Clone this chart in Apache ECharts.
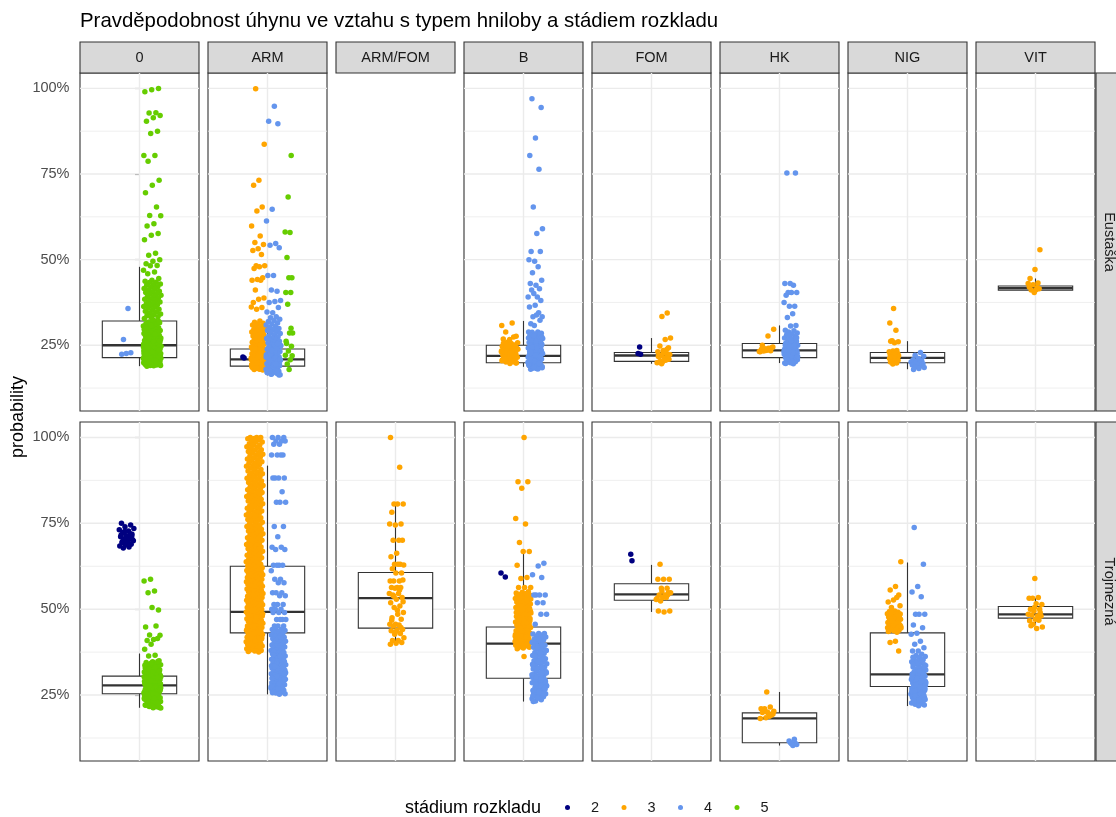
<!DOCTYPE html>
<html>
<head>
<meta charset="utf-8">
<title>Pravděpodobnost úhynu ve vztahu s typem hniloby a stádiem rozkladu</title>
<script src="https://cdn.jsdelivr.net/npm/echarts@6/dist/echarts.min.js"></script>
<style>
html, body { margin: 0; padding: 0; background: #fff; }
#chart { width: 1116px; height: 817px; }
</style>
</head>
<body>
<div id="chart"></div>
<script>
// ---------- labels ----------
const TITLE = 'Pravděpodobnost úhynu ve vztahu s typem hniloby a stádiem rozkladu';
const COLUMNS = ['0', 'ARM', 'ARM/FOM', 'B', 'FOM', 'HK', 'NIG', 'VIT'];
const ROWS = ['Eustaška', 'Trojmezná'];
const STAGES = ['2', '3', '4', '5'];
const Y_TITLE = 'probability';
const LEGEND_TITLE = 'stádium rozkladu';
const Y_MAJOR = [25, 50, 75, 100];
const Y_MINOR = [12.5, 37.5, 62.5, 87.5];

// ---------- box statistics, percent: [lower whisker, Q1, median, Q3, upper whisker] ----------
const BOX_EUSTASKA = [
  [18.9, 21.4, 25.0, 32.1, 47.9],
  [16.2, 18.9, 20.9, 23.9, 32.5],
  null,
  [18.7, 19.9, 21.9, 25.0, 32.1],
  [19.6, 20.3, 22.0, 22.9, 27.1],
  [19.8, 21.4, 23.5, 25.5, 30.8],
  [18.0, 19.9, 21.3, 22.9, 26.2],
  [40.4, 41.1, 41.7, 42.3, 44.5]
];
const BOX_TROJMEZNA = [
  [21.3, 25.4, 27.8, 30.5, 37.1],
  [25.2, 43.1, 49.2, 62.5, 91.8],
  [40.0, 44.5, 53.2, 60.7, 80.6],
  [23.1, 29.9, 40.0, 44.8, 66.5],
  [49.2, 52.6, 54.3, 57.4, 62.9],
  [10.3, 11.1, 18.2, 19.8, 25.9],
  [21.8, 27.5, 31.0, 43.1, 63.6],
  [45.5, 47.4, 48.5, 50.8, 53.2]
];

// ---------- individual probabilities, in tenths of a percent ----------
// Eustaška
const E_0_4 = [357, 267, 228, 226, 224];
const E_0_5 = [1000,996,990,929,928,921,914,904,875,868,804,804,787,732,717,695,654,629,628,605,598,576,571,558,519,513,500,495,488,483,482,469,464,459,445,440,
437,434,433,429,427,425,421,419,416,414,411,408,406,404,401,399,396,393,391,388,386,384,381,378,376,373,371,368,366,363,361,358,355,352,349,347,344,341,339,336,333,331,328,
321,318,316,314,313,311,309,306,305,303,301,299,298,296,295,293,291,289,288,286,284,283,281,279,278,276,275,273,271,270,268,267,265,264,262,261,259,258,257,255,254,253,252,251,319,307,294,287,274,266,260,256,252,308,297,282,272,263,325,300,
249,248,247,246,245,244,243,242,241,240,239,238,237,236,235,234,233,232,231,230,229,228,227,226,225,224,223,222,221,220,219,218,217,216,215,248,245,241,238,235,232,229,226,223,220,217,246,240,233,227,221,243,236,230,224,
214,213,212,211,210,209,208,207,206,205,204,203,202,201,200,199,198,197,196,195,194,193,192,191,190,189,213,211,208,206,203,201,198,196,193,191,212,207,202,197,192,210,204,199,194];
const E_ARM_2 = [216, 213];
const E_ARM_3 = [999,837,732,717,654,642,598,569,550,544,532,527,515,482,482,479,474,447,442,440,440,411,388,384,375,360,355,362,
321,317,314,312,309,305,303,301,298,296,293,291,289,286,284,282,279,277,275,272,270,268,266,263,261,259,257,255,253,251,
249,248,246,245,243,242,240,239,237,236,234,233,231,230,228,227,225,224,222,221,219,218,216,215,213,212,210,209,207,206,204,203,201,200,198,197,195,194,192,191,189,188,186,185,183,182,180,179,178,
247,244,238,235,229,226,220,217,211,208,202,199,193,190,184,181,241,232,223,214,205,196,187,250,239,228,217,206,195,184];
const E_ARM_4 = [948,904,897,647,613,547,542,535,454,454,408,411,381,378,375,360,345,347,333,
330,326,322,319,315,312,309,305,302,299,296,293,290,287,284,281,278,275,272,270,267,264,262,259,257,254,252,249,247,245,243,240,238,236,234,232,230,228,226,224,222,220,218,216,214,212,210,208,206,204,202,200,198,196,194,192,190,188,186,184,182,180,178,176,174,172,170,168,166,164,
251,244,237,229,221,213,205,197,189,181,173,165,248,233,219,203,187,171,241,225,209,193,177,255,235,215,195,175,163];
const E_ARM_5 = [804,683,581,579,506,447,447,404,404,370,286,286,255,247,233,221,208,195,219,179,262,300];
const E_B_3 = [308,315,289,276,267,268,274,
259,257,255,253,251,249,247,245,243,241,239,237,235,233,231,229,227,225,223,221,219,217,215,213,211,209,207,205,203,201,199,197,256,250,244,238,232,226,220,214,208,202,252,240,228,216,204,246,234,222,210,198];
const E_B_4 = [970,944,855,804,764,654,590,576,524,524,495,500,479,462,440,425,430,415,401,391,391,411,381,367,362,345,333,333,338,313,323,308,289,289,
288,285,282,279,276,273,270,268,265,263,260,258,256,254,252,250,248,246,244,242,240,238,236,234,232,230,228,226,224,222,220,218,216,214,212,210,208,206,204,202,200,198,196,194,192,190,188,186,184,182,180,
283,277,271,266,261,255,249,243,237,231,225,219,213,207,201,195,189,183,274,262,251,239,227,215,203,191,247,235,223,211,199,187,241,229,217,205,193,181,245,233,221,209,197,185];
const E_FOM_2 = [245, 226, 224];
const E_FOM_3 = [344,334,271,267,248,243,235,231,226,221,223,213,216,211,201,199,206,203,209,228,218,238,196];
const E_HK_3 = [297,277,250,243,235,231,237,233,245,236,238,234,240,232,241];
const E_HK_4 = [753,753,430,430,425,404,404,404,396,364,364,375,342,331,308,306,294,292,
289,286,283,280,277,274,271,268,265,262,259,256,254,252,250,248,246,244,242,240,238,236,234,232,230,228,226,224,222,220,218,216,214,212,210,208,206,204,202,200,198,196,281,272,263,255,247,239,231,223,215,207,199,251,243,235,227,219,211,203,245,237,229,221,213,205,197,249,233,217,201];
const E_NIG_3 = [357,315,294,263,260,257,262,235,233,231,229,228,226,225,223,222,220,219,217,216,214,213,211,210,208,206,204,201,198,195];
const E_NIG_4 = [229,221,218,211,208,205,203,201,199,197,196,194,192,190,187,185,182,179];
const E_VIT_3 = [529,471,445,432,427,430,412,411,415,404,420,418];

// Trojmezná
const T_0_2 = [750,745,740,731,728,723,718,714,711,706,704,699,696,694,689,687,684,681,678,702,708,716,720,726,735,692,697,712];
const T_0_5 = [587,582,553,548,498,505,448,451,425,424,412,409,415,398,383,366,364,
350,347,345,342,340,338,336,334,332,330,329,327,326,324,323,321,320,318,317,315,314,313,312,311,310,309,308,307,306,348,343,337,331,325,319,316,311,307,
304,303,302,301,300,299,298,297,296,295,294,293,292,291,290,289,288,287,286,285,284,283,282,281,280,279,305,302,299,296,293,290,287,284,281,303,297,291,285,279,300,294,288,282,298,289,301,292,283,286,
277,276,275,274,273,272,271,270,269,268,267,266,265,264,263,262,261,260,259,258,257,256,255,254,278,275,272,269,266,263,260,257,255,276,270,264,258,273,267,261,256,274,268,262,271,265,259,277,263,257,
253,251,249,247,245,243,241,239,237,235,233,231,229,227,225,223,221,219,217,215,213,252,248,244,240,236,232,228,224,220,216,250,242,234,226,218,246,238,230,222,214,254,237,229,221,212,241,233,225,217];
const T_ARM_3 = [1000,1000,1000,997,996,993,989,987,986,982,978,977,973,971,968,964,963,959,956,955,951,948,946,943,941,937,935,933,929,926,925,921,918,916,913,911,907,905,902,899,897,894,892,889,886,884,881,878,876,873,871,869,865,863,860,858,856,852,850,848,845,843,840,837,835,832,830,828,824,822,820,817,815,812,809,807,805,801,799,797,794,792,789,786,784,781,779,776,774,771,768,766,763,761,759,756,753,751,748,745,743,741,738,736,733,731,728,726,723,720,718,716,713,710,708,706,703,701,698,696,693,691,688,686,684,681,679,676,674,671,669,667,664,662,659,657,655,652,650,647,645,643,640,638,635,633,631,628,626,
624,622,621,619,618,616,614,613,611,610,608,606,605,603,602,600,599,597,595,594,592,591,589,587,586,584,583,581,580,578,576,575,573,572,570,568,567,565,564,562,561,559,557,556,554,553,551,549,548,546,545,543,542,540,538,537,535,534,532,530,529,527,526,524,523,521,519,518,516,515,513,511,510,508,507,505,504,502,500,499,497,496,494,492,491,489,488,486,485,483,481,480,478,477,475,473,472,470,469,467,466,464,462,461,459,458,456,454,453,451,450,448,447,445,443,442,440,439,437,435,434,432,431,429,428,426,424,423,421,420,418,416,415,413,412,410,409,407,405,404,402,401,399,397,396,394,393,391,390,388,386,385,383,382,380,378,377,375,
496,487,478,469,461,452,443,434,425,417,408,399,390];
const T_ARM_4 = [1000,1000,1000,990,990,990,980,980,949,949,949,949,882,882,882,882,842,811,811,811,741,741,711,680,680,674,674,628,628,628,628,612,587,587,577,577,548,548,548,539,539,514,514,514,500,500,500,490,490,490,470,470,470,470,451,451,451,441,441,441,
438,435,433,430,428,425,423,421,418,416,414,411,409,407,404,402,400,398,396,394,392,390,388,386,384,382,380,378,376,374,372,370,368,366,364,362,360,358,356,354,352,350,348,346,344,342,340,338,336,334,332,330,328,326,324,322,320,318,316,314,312,310,308,306,304,302,300,298,296,294,292,290,288,286,284,282,280,278,276,274,272,270,268,266,264,262,260,258,256,254,252,
377,363,349,335,321,307,293,279,265,371,343,315,287,259,355,327,299,271,339,311,283,367,331,303,275,362,333,296,268,257];
const T_ARMFOM_3 = [1000,913,806,806,806,782,748,745,748,701,701,701,663,653,631,631,629,631,618,605,605,582,582,582,585,563,563,563,561,546,546,541,534,529,519,509,505,490,485,475,471,456,456,454,451,441,439,437,429,427,417,409,409,403,401,398,556,538,522,497,468,447,433];
const T_B_2 = [605, 594];
const T_B_3 = [1000,871,871,852,764,748,694,668,668,628,592,589,563,563,563,
551,549,547,545,543,541,539,537,535,533,531,529,527,525,523,521,519,517,515,513,511,509,507,505,503,501,499,497,495,493,491,489,487,485,483,481,479,477,475,473,471,469,467,465,463,461,459,457,455,453,451,449,447,445,443,441,439,437,435,433,431,429,427,425,423,421,419,417,415,413,411,409,407,405,403,401,399,397,395,393,391,389,387,385,
546,538,530,522,514,506,498,490,482,474,466,458,450,442,434,426,418,410,402,394,542,526,510,494,478,462,446,430,414,398,534,502,470,454,438,422,406,486,468,452,436,420,460,444,428,362,388];
const T_B_4 = [634,626,600,592,541,541,541,541,519,519,485,485,456,429,429,
428,425,422,419,416,413,410,407,404,401,398,395,392,389,386,383,380,377,374,371,368,365,362,359,356,353,350,347,344,341,338,335,332,329,326,323,320,317,314,311,308,305,302,299,296,293,290,287,284,281,278,275,272,269,266,263,260,257,254,251,248,245,242,239,236,233,
420,412,404,396,388,380,372,364,356,348,340,332,324,316,308,300,292,284,276,268,260,252,244,
336,330,322,318,310,304,297,291,286,279,273,267,262,256,250,328,314,301,288,274,261,247,315,303,289,277,265,253,241,309,295,282,270,258,231];
const T_FOM_2 = [660, 641];
const T_FOM_3 = [631,587,587,587,561,561,548,541,541,548,534,531,534,524,495,492,495,541,553,528];
const T_HK_3 = [259,210,215,210,203,198,199,192,184,182,188,206,195,201];
const T_HK_4 = [121,111,106,103,116,110,108];
const T_NIG_3 = [638,566,556,541,527,521,534,505,510,
495,493,491,489,487,485,483,481,479,477,475,473,471,469,467,465,463,461,459,457,455,453,451,449,447,445,443,441,439,437,435,433,494,486,478,470,462,454,446,438,490,474,458,442,482,466,450,407,403,378];
const T_NIG_4 = [738,631,566,550,536,485,485,485,454,446,430,427,407,398,388,378,378,369,
365,362,359,356,353,350,347,344,341,338,335,332,329,326,323,320,317,315,313,311,309,307,305,303,301,299,297,295,293,291,289,287,285,283,281,279,277,275,273,271,269,267,265,263,261,259,257,255,253,251,249,247,245,243,241,239,237,235,233,231,229,227,225,223,221,219,
360,352,344,336,328,318,312,306,300,294,288,282,276,270,264,258,252,246,240,331,321,310,302,296,290,284,278,272,266,260,254,248,242,236,340,314,298,286,274,262,250,316,304,292,280,268,320,233];
const T_VIT_3 = [589,532,534,532,514,516,500,500,495,485,480,483,480,471,466,468,456,448,444,452,490,505];

// ---------- which values go in which panel, and where they sit horizontally ----------
// [row, column, stage index, values, centre offset, jitter half-width] (x units: panel spans -0.6..0.6)
const JITTER_GROUPS = [
  [0, 0, 2, E_0_4, -0.13, 0.06],
  [0, 0, 3, E_0_5, 0.128, 0.09],
  [0, 1, 0, E_ARM_2, -0.24, 0.01],
  [0, 1, 1, E_ARM_3, -0.095, 0.07],
  [0, 1, 2, E_ARM_4, 0.06, 0.075],
  [0, 1, 3, E_ARM_5, 0.215, 0.04],
  [0, 3, 1, E_B_3, -0.14, 0.085],
  [0, 3, 2, E_B_4, 0.12, 0.075],
  [0, 4, 0, E_FOM_2, -0.12, 0.02],
  [0, 4, 1, E_FOM_3, 0.125, 0.07],
  [0, 5, 1, E_HK_3, -0.13, 0.075],
  [0, 5, 2, E_HK_4, 0.115, 0.07],
  [0, 6, 1, E_NIG_3, -0.135, 0.05],
  [0, 6, 2, E_NIG_4, 0.105, 0.07],
  [0, 7, 1, E_VIT_3, -0.01, 0.065],
  [1, 0, 0, T_0_2, -0.13, 0.075],
  [1, 0, 3, T_0_5, 0.13, 0.085],
  [1, 1, 1, T_ARM_3, -0.13, 0.085],
  [1, 1, 2, T_ARM_4, 0.11, 0.075],
  [1, 2, 1, T_ARMFOM_3, 0.01, 0.075],
  [1, 3, 0, T_B_2, -0.215, 0.035],
  [1, 3, 1, T_B_3, -0.005, 0.08],
  [1, 3, 2, T_B_4, 0.16, 0.075],
  [1, 4, 0, T_FOM_2, -0.20, 0.01],
  [1, 4, 1, T_FOM_3, 0.12, 0.075],
  [1, 5, 1, T_HK_3, -0.13, 0.075],
  [1, 5, 2, T_HK_4, 0.125, 0.05],
  [1, 6, 1, T_NIG_3, -0.135, 0.07],
  [1, 6, 2, T_NIG_4, 0.11, 0.075],
  [1, 7, 1, T_VIT_3, 0.0, 0.075]
];

// ---------- styling and layout ----------
const FONT = '"Liberation Sans", Arial, Helvetica, sans-serif';
const STAGE_COLORS = ['#000080', '#FFA500', '#6495ED', '#66CD00'];
const Y_RANGE = [5.8, 104.5];
const X_RANGE = [-0.6, 0.6];
const BOX_HALF = 0.375;
const POINT_SIZE = 5.5;
const PANEL_LEFT = 80, PANEL_STEP = 128, PANEL_W = 119;
const PANEL_TOP = [73, 422], PANEL_H = [338, 339];
const STRIP_TOP = 42, STRIP_H = 31, RIGHT_STRIP_X = 1096;
const LEGEND_KEY_X = [567.5, 624, 680.5, 737];
const LEGEND_TOP = 800;

// deterministic horizontal spread within a group
function spread(i, seed) {
  const f = ((i + 1) * 0.6180339887 + seed * 0.2357) % 1;
  return 2 * f - 1;
}

const grids = [], xAxes = [], yAxes = [], series = [];
const panelIndex = {};
const boxes = [BOX_EUSTASKA, BOX_TROJMEZNA];

for (let r = 0; r < ROWS.length; r++) {
  for (let c = 0; c < COLUMNS.length; c++) {
    const box = boxes[r][c];
    if (!box) continue;
    const idx = grids.length;
    panelIndex[r + '_' + c] = idx;
    grids.push({
      left: PANEL_LEFT + c * PANEL_STEP, top: PANEL_TOP[r],
      width: PANEL_W, height: PANEL_H[r],
      show: true, backgroundColor: '#ffffff', borderColor: '#333333', borderWidth: 1.1,
      containLabel: false, outerBoundsMode: 'none'
    });
    xAxes.push({
      gridIndex: idx, type: 'value', min: X_RANGE[0], max: X_RANGE[1], show: false
    });
    yAxes.push({
      gridIndex: idx, type: 'value', min: Y_RANGE[0], max: Y_RANGE[1],
      axisLine: { show: false },
      splitLine: { show: false },
      axisTick: { show: c === 0, customValues: Y_MAJOR, length: 4.5, lineStyle: { color: '#333333', width: 1.1 } },
      axisLabel: {
        show: c === 0, customValues: Y_MAJOR, formatter: '{value}%',
        color: '#4D4D4D', fontSize: 14.5, fontFamily: FONT, margin: 10.5
      }
    });
    // panel grid lines
    series.push({
      type: 'custom', xAxisIndex: idx, yAxisIndex: idx, silent: true, z: 1,
      data: [[0, 50]],
      renderItem: function (params, api) {
        const children = [];
        const hline = function (v, w) {
          const a = api.coord([X_RANGE[0], v]), b = api.coord([X_RANGE[1], v]);
          children.push({ type: 'line', shape: { x1: a[0], y1: a[1], x2: b[0], y2: b[1] },
            style: { stroke: '#EBEBEB', lineWidth: w } });
        };
        Y_MINOR.forEach(function (v) { hline(v, 0.8); });
        Y_MAJOR.forEach(function (v) { hline(v, 1.4); });
        const t = api.coord([0, Y_RANGE[1]]), b = api.coord([0, Y_RANGE[0]]);
        children.push({ type: 'line', shape: { x1: t[0], y1: t[1], x2: b[0], y2: b[1] },
          style: { stroke: '#EBEBEB', lineWidth: 1.4 } });
        return { type: 'group', children: children };
      }
    });
    // box and whiskers
    series.push({
      type: 'custom', xAxisIndex: idx, yAxisIndex: idx, silent: true, z: 2,
      encode: { x: 0, y: [1, 2, 3, 4, 5] },
      data: [[0].concat(box)],
      renderItem: function (params, api) {
        const lo = api.value(1), q1 = api.value(2), md = api.value(3), q3 = api.value(4), hi = api.value(5);
        const pLo = api.coord([0, lo]), pQ1 = api.coord([0, q1]), pQ3 = api.coord([0, q3]), pHi = api.coord([0, hi]);
        const tl = api.coord([-BOX_HALF, q3]), br = api.coord([BOX_HALF, q1]);
        const mL = api.coord([-BOX_HALF, md]), mR = api.coord([BOX_HALF, md]);
        const st = { stroke: '#333333', lineWidth: 1.1, fill: null };
        return { type: 'group', children: [
          { type: 'line', shape: { x1: pQ3[0], y1: pQ3[1], x2: pHi[0], y2: pHi[1] }, style: st },
          { type: 'line', shape: { x1: pLo[0], y1: pLo[1], x2: pQ1[0], y2: pQ1[1] }, style: st },
          { type: 'rect', shape: { x: tl[0], y: tl[1], width: br[0] - tl[0], height: br[1] - tl[1] },
            style: { fill: '#ffffff', stroke: '#333333', lineWidth: 1.1 } },
          { type: 'line', shape: { x1: mL[0], y1: mL[1], x2: mR[0], y2: mR[1] },
            style: { stroke: '#333333', lineWidth: 2.3 } }
        ] };
      }
    });
  }
}

// jittered points
JITTER_GROUPS.forEach(function (g, gi) {
  const idx = panelIndex[g[0] + '_' + g[1]];
  const values = g[3], centre = g[4], half = g[5];
  series.push({
    type: 'scatter', name: STAGES[g[2]], xAxisIndex: idx, yAxisIndex: idx,
    silent: true, z: 3, symbol: 'circle', symbolSize: POINT_SIZE,
    itemStyle: { color: STAGE_COLORS[g[2]], opacity: 1, borderWidth: 0 },
    data: values.map(function (v, i) { return [centre + half * spread(i, gi), v / 10]; })
  });
});

// facet strips and free text
const graphic = [];
graphic.push({ type: 'text', x: 80, y: 21,
  style: { text: TITLE, fill: '#000000', fontSize: 20.4, fontFamily: FONT, align: 'left', verticalAlign: 'middle' } });
COLUMNS.forEach(function (name, c) {
  const x = PANEL_LEFT + c * PANEL_STEP;
  graphic.push({ type: 'rect', shape: { x: x, y: STRIP_TOP, width: PANEL_W, height: STRIP_H },
    style: { fill: '#D9D9D9', stroke: '#333333', lineWidth: 1.1 } });
  graphic.push({ type: 'text', x: x + PANEL_W / 2, y: STRIP_TOP + STRIP_H / 2 + 0.5,
    style: { text: name, fill: '#1A1A1A', fontSize: 14.5, fontFamily: FONT, align: 'center', verticalAlign: 'middle' } });
});
ROWS.forEach(function (name, r) {
  graphic.push({ type: 'rect', shape: { x: RIGHT_STRIP_X, y: PANEL_TOP[r], width: STRIP_H, height: PANEL_H[r] },
    style: { fill: '#D9D9D9', stroke: '#333333', lineWidth: 1.1 } });
  graphic.push({ type: 'text', x: RIGHT_STRIP_X + STRIP_H / 2 - 3, y: PANEL_TOP[r] + PANEL_H[r] / 2,
    rotation: -Math.PI / 2,
    style: { text: name, fill: '#1A1A1A', fontSize: 14.5, fontFamily: FONT, align: 'center', verticalAlign: 'middle' } });
});
graphic.push({ type: 'text', x: 18, y: 417, rotation: Math.PI / 2,
  style: { text: Y_TITLE, fill: '#000000', fontSize: 18, fontFamily: FONT, align: 'center', verticalAlign: 'middle' } });
graphic.push({ type: 'text', x: 405, y: 808,
  style: { text: LEGEND_TITLE, fill: '#000000', fontSize: 18, fontFamily: FONT, align: 'left', verticalAlign: 'middle' } });

// one legend per stage so each key sits where it should
const legends = STAGES.map(function (s, i) {
  return {
    data: [s], orient: 'horizontal', left: LEGEND_KEY_X[i] - 2.5, top: LEGEND_TOP, padding: 0,
    icon: 'circle', itemWidth: 5, itemHeight: 5, itemGap: 0, selectedMode: false,
    textStyle: { fontSize: 14.5, color: '#1A1A1A', fontFamily: FONT, padding: [0, 0, 0, 16] }
  };
});

const chart = echarts.init(document.getElementById('chart'), null, { renderer: 'canvas' });
chart.setOption({
  animation: false,
  backgroundColor: '#ffffff',
  textStyle: { fontFamily: FONT },
  grid: grids,
  xAxis: xAxes,
  yAxis: yAxes,
  series: series,
  graphic: graphic,
  legend: legends
});
</script>
</body>
</html>
